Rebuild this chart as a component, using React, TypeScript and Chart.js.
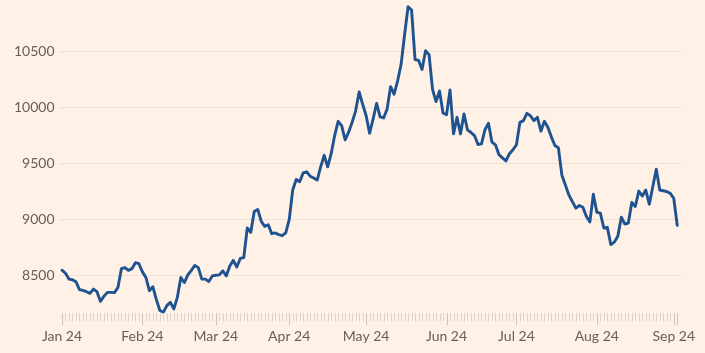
import React, { useEffect, useRef } from "react";
import { Chart, registerables } from "chart.js";

Chart.register(...registerables);

// Trading days (weekdays) covered by the series
const startDate = "2024-01-01";
const endDate = "2024-09-03";

// Month tick labels (one per month start)
const monthLabels = ["Jan 24", "Feb 24", "Mar 24", "Apr 24", "May 24", "Jun 24", "Jul 24", "Aug 24", "Sep 24"];

// Y axis tick values
const yTicks = [8500, 9000, 9500, 10000, 10500];

// Daily closing values
const values = [
  8545, 8518, 8466, 8460, 8442, 8372, 8365, 8353, 8338, 8376,
  8353, 8267, 8312, 8347, 8347, 8345, 8391, 8559, 8568, 8544,
  8559, 8612, 8603, 8530, 8480, 8362, 8397, 8282, 8185, 8170,
  8229, 8258, 8199, 8303, 8480, 8435, 8503, 8544, 8588, 8568,
  8465, 8465, 8444, 8494, 8500, 8503, 8539, 8494, 8583, 8633,
  8574, 8650, 8657, 8922, 8884, 9070, 9088, 8981, 8937, 8951,
  8872, 8878, 8863, 8854, 8878, 8996, 9261, 9356, 9335, 9415,
  9424, 9385, 9368, 9350, 9468, 9571, 9468, 9586, 9748, 9875,
  9836, 9710, 9778, 9866, 9969, 10137, 10028, 9925, 9769, 9896,
  10035, 9915, 9905, 9984, 10185, 10117, 10235, 10382, 10648, 10898,
  10869, 10427, 10420, 10338, 10506, 10471, 10161, 10052, 10146, 9949,
  9934, 10155, 9763, 9911, 9763, 9940, 9798, 9775, 9748, 9668,
  9674, 9800, 9858, 9689, 9665, 9577, 9548, 9521, 9586, 9621,
  9666, 9866, 9881, 9946, 9925, 9881, 9911, 9787, 9875, 9822,
  9734, 9659, 9639, 9394, 9306, 9217, 9158, 9099, 9123, 9108,
  9026, 8975, 9223, 9062, 9055, 8922, 8928, 8774, 8796, 8849,
  9019, 8958, 8966, 9150, 9114, 9252, 9208, 9261, 9135, 9291,
  9447, 9261, 9255, 9247, 9232, 9188, 8946,
];

function buildDates(): Date[] {
  const out: Date[] = [];
  const d = new Date(startDate + "T00:00:00Z");
  const end = new Date(endDate + "T00:00:00Z");
  while (d <= end) {
    const wd = d.getUTCDay();
    if (wd !== 0 && wd !== 6) out.push(new Date(d.getTime()));
    d.setUTCDate(d.getUTCDate() + 1);
  }
  return out;
}

export default function App() {
  const ref = useRef<HTMLCanvasElement | null>(null);

  useEffect(() => {
    if (!ref.current) return;
    const dates = buildDates();
    const n = Math.min(dates.length, values.length);
    const monthStarts: number[] = [];
    for (let i = 0; i < n; i++) {
      if (i === 0 || dates[i].getUTCMonth() !== dates[i - 1].getUTCMonth()) monthStarts.push(i);
    }
    const majorSet = new Set(monthStarts);
    const points = values.slice(0, n).map((v, i) => ({ x: i, y: v }));

    const tickMarks = {
      id: "tickMarks",
      afterDraw(chart: any) {
        const { ctx, chartArea, scales } = chart;
        const xs = scales.x;
        ctx.save();
        ctx.lineWidth = 1;
        for (let i = 0; i < n; i++) {
          const px = Math.round(xs.getPixelForValue(i)) + 0.5;
          const major = majorSet.has(i) || i === n - 1;
          ctx.strokeStyle = major ? "#cdc3bb" : "#ddd3ca";
          ctx.beginPath();
          ctx.moveTo(px, chartArea.bottom);
          ctx.lineTo(px, chartArea.bottom + (major ? 12 : 8));
          ctx.stroke();
        }
        ctx.restore();
      },
    };

    const chart = new Chart(ref.current, {
      type: "line",
      data: {
        datasets: [
          {
            data: points,
            borderColor: "#1f5291",
            borderWidth: 2.9,
            pointRadius: 0,
            tension: 0,
            borderJoinStyle: "round",
            borderCapStyle: "round",
            clip: false,
          } as any,
        ],
      },
      options: {
        animation: false,
        responsive: false,
        devicePixelRatio: 1,
        layout: { padding: { left: 10, right: 23, top: 0, bottom: 5 } },
        plugins: { legend: { display: false }, tooltip: { enabled: false } },
        scales: {
          x: {
            type: "linear",
            min: -0.97,
            max: 177.36,
            border: { display: false },
            grid: { display: false, drawTicks: true, tickLength: 12 },
            afterBuildTicks: (axis: any) => {
              axis.ticks = monthStarts.map((v) => ({ value: v }));
            },
            ticks: {
              autoSkip: false,
              maxRotation: 0,
              padding: 3,
              color: "#66605C",
              font: { family: "Lato", size: 14 },
              callback: (value: any) => {
                const k = monthStarts.indexOf(Number(value));
                return k >= 0 ? monthLabels[k] : "";
              },
            },
          },
          y: {
            min: 8161,
            max: 10848,
            border: { display: false },
            grid: { color: "#ece2d9", lineWidth: 1, drawTicks: false },
            afterBuildTicks: (axis: any) => {
              axis.ticks = yTicks.map((v) => ({ value: v }));
            },
            ticks: {
              padding: 4,
              color: "#66605C",
              font: { family: "Lato", size: 14 },
              callback: (value: any) => String(value),
            },
          },
        },
      },
      plugins: [tickMarks],
    });
    return () => chart.destroy();
  }, []);

  return (
    <div style={{ position: "fixed", left: 0, top: 0, width: 705, height: 353, background: "#FFF1E5" }}>
      <canvas ref={ref} width={705} height={353} style={{ display: "block" }} />
    </div>
  );
}
